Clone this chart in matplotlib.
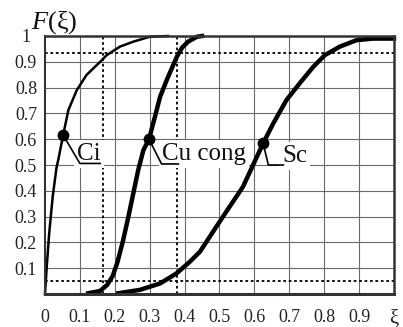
import matplotlib
matplotlib.use("Agg")
import matplotlib.pyplot as plt

plt.rcParams['font.family'] = ['Liberation Serif', 'DejaVu Serif']
plt.rcParams['mathtext.fontset'] = 'custom'
plt.rcParams['mathtext.it'] = 'Liberation Serif:italic'
plt.rcParams['mathtext.rm'] = 'Liberation Serif'

# ---- data ----
ci_x = [0.0, 0.005, 0.012, 0.022, 0.033, 0.038, 0.052, 0.067, 0.091, 0.119, 0.158, 0.177, 0.215, 0.253, 0.30, 0.352]
ci_y = [0.0, 0.106, 0.235, 0.377, 0.49, 0.52, 0.616, 0.713, 0.79, 0.849, 0.90, 0.926, 0.959, 0.978, 0.997, 1.0]

cu_x = [0.124, 0.158, 0.178, 0.194, 0.208, 0.224, 0.239, 0.253, 0.267, 0.282, 0.298, 0.315, 0.33, 0.349, 0.365, 0.378, 0.393, 0.41, 0.435, 0.45]
cu_y = [0.003, 0.012, 0.035, 0.07, 0.125, 0.209, 0.30, 0.39, 0.48, 0.558, 0.60, 0.687, 0.765, 0.83, 0.88, 0.92, 0.955, 0.978, 0.997, 1.0]

sc_x = [0.21, 0.272, 0.33, 0.377, 0.415, 0.444, 0.51, 0.567, 0.625, 0.654, 0.692, 0.73, 0.769, 0.802, 0.845, 0.893, 0.94, 1.0]
sc_y = [0.003, 0.016, 0.041, 0.08, 0.125, 0.164, 0.30, 0.415, 0.584, 0.661, 0.752, 0.817, 0.881, 0.926, 0.959, 0.984, 0.99, 0.99]

series_names = ['Ci', 'Cu cong', 'Sc']
marker_x = [0.052, 0.298, 0.625]
marker_y = [0.616, 0.60, 0.584]

hlines_y = [0.935, 0.052]
vlines_x = [0.166, 0.377]

xticks = [0, 0.1, 0.2, 0.3, 0.4, 0.5, 0.6, 0.7, 0.8, 0.9, 1.0]
xticklabels = ['0', '0.1', '0.2', '0.3', '0.4', '0.5', '0.6', '0.7', '0.8', '0.9', 'ξ']
yticks = [0.1, 0.2, 0.3, 0.4, 0.5, 0.6, 0.7, 0.8, 0.9, 1.0]
yticklabels = ['0.1', '0.2', '0.3', '0.4', '0.5', '0.6', '0.7', '0.8', '0.9', '1']

# ---- figure ----
fig = plt.figure(figsize=(4.03, 3.27), dpi=100)
ax = fig.add_axes([45/403, 1-294/327, 349/403, 258/327])
ax.set_xlim(0, 1)
ax.set_ylim(0, 1)

grid_c = '#6a6a6a'
for v in [0.1, 0.2, 0.3, 0.4, 0.5, 0.6, 0.7, 0.8, 0.9]:
    ax.axvline(v, color=grid_c, lw=0.8, zorder=1)
    ax.axhline(v, color=grid_c, lw=0.8, zorder=1)

for y in hlines_y:
    ax.axhline(y, color='black', lw=1.3, ls=(0, (1.5, 1.5)), zorder=2)
for x in vlines_x:
    ax.axvline(x, color='black', lw=1.3, ls=(0, (1.5, 1.5)), zorder=2)

ax.plot(ci_x, ci_y, color='black', lw=1.8, zorder=4, clip_on=False, solid_joinstyle='round')
ax.plot(cu_x, cu_y, color='black', lw=3.2, zorder=4, clip_on=False, solid_joinstyle='round')
ax.plot(sc_x, sc_y, color='black', lw=3.2, zorder=4, clip_on=False, solid_joinstyle='round')

ax.plot(marker_x, marker_y, 'o', color='black', ms=7.5, zorder=6, ls='none')

# labels with leader lines
label_pos = [(0.093, 0.52), (0.336, 0.52), (0.679, 0.512)]
leader_bend = [(0.10, 0.506), (0.334, 0.504), (0.64, 0.50)]
leader_end = [0.158, 0.382, 0.683]
for name, mx, my, (tx, ty), (bx, by), ex in zip(series_names, marker_x, marker_y,
                                                 label_pos, leader_bend, leader_end):
    ax.text(tx, ty, name, fontsize=18, ha='left', va='baseline', zorder=3, color='#111111',
            bbox=dict(boxstyle='square,pad=0.12', fc='white', ec='none'))
    ax.plot([mx, bx, ex], [my, by, by], color='black', lw=1.2, zorder=5)

for side in ['left', 'top', 'right', 'bottom']:
    ax.spines[side].set_color('#333333')
    ax.spines[side].set_zorder(7)
ax.spines['left'].set_linewidth(1.5)
ax.spines['top'].set_linewidth(1.8)
ax.spines['right'].set_linewidth(1.8)
ax.spines['bottom'].set_linewidth(2.2)

ax.set_xticks(xticks)
ax.set_xticklabels(xticklabels, fontsize=13, color='#222222')
ax.get_xticklabels()[-1].set_fontsize(15)
ax.set_yticks(yticks)
ax.set_yticklabels(yticklabels, fontsize=13, color='#222222')
for lab in ax.get_yticklabels():
    lab.set_ha('center')
ax.tick_params(axis='y', length=0, pad=13.7)
ax.tick_params(axis='x', length=0, pad=10.5)

fig.text(54/403, 1-23/327, '$F$(ξ)', fontsize=19, ha='center', va='center', color='#111111')

fig.savefig('out.png', dpi=100)
